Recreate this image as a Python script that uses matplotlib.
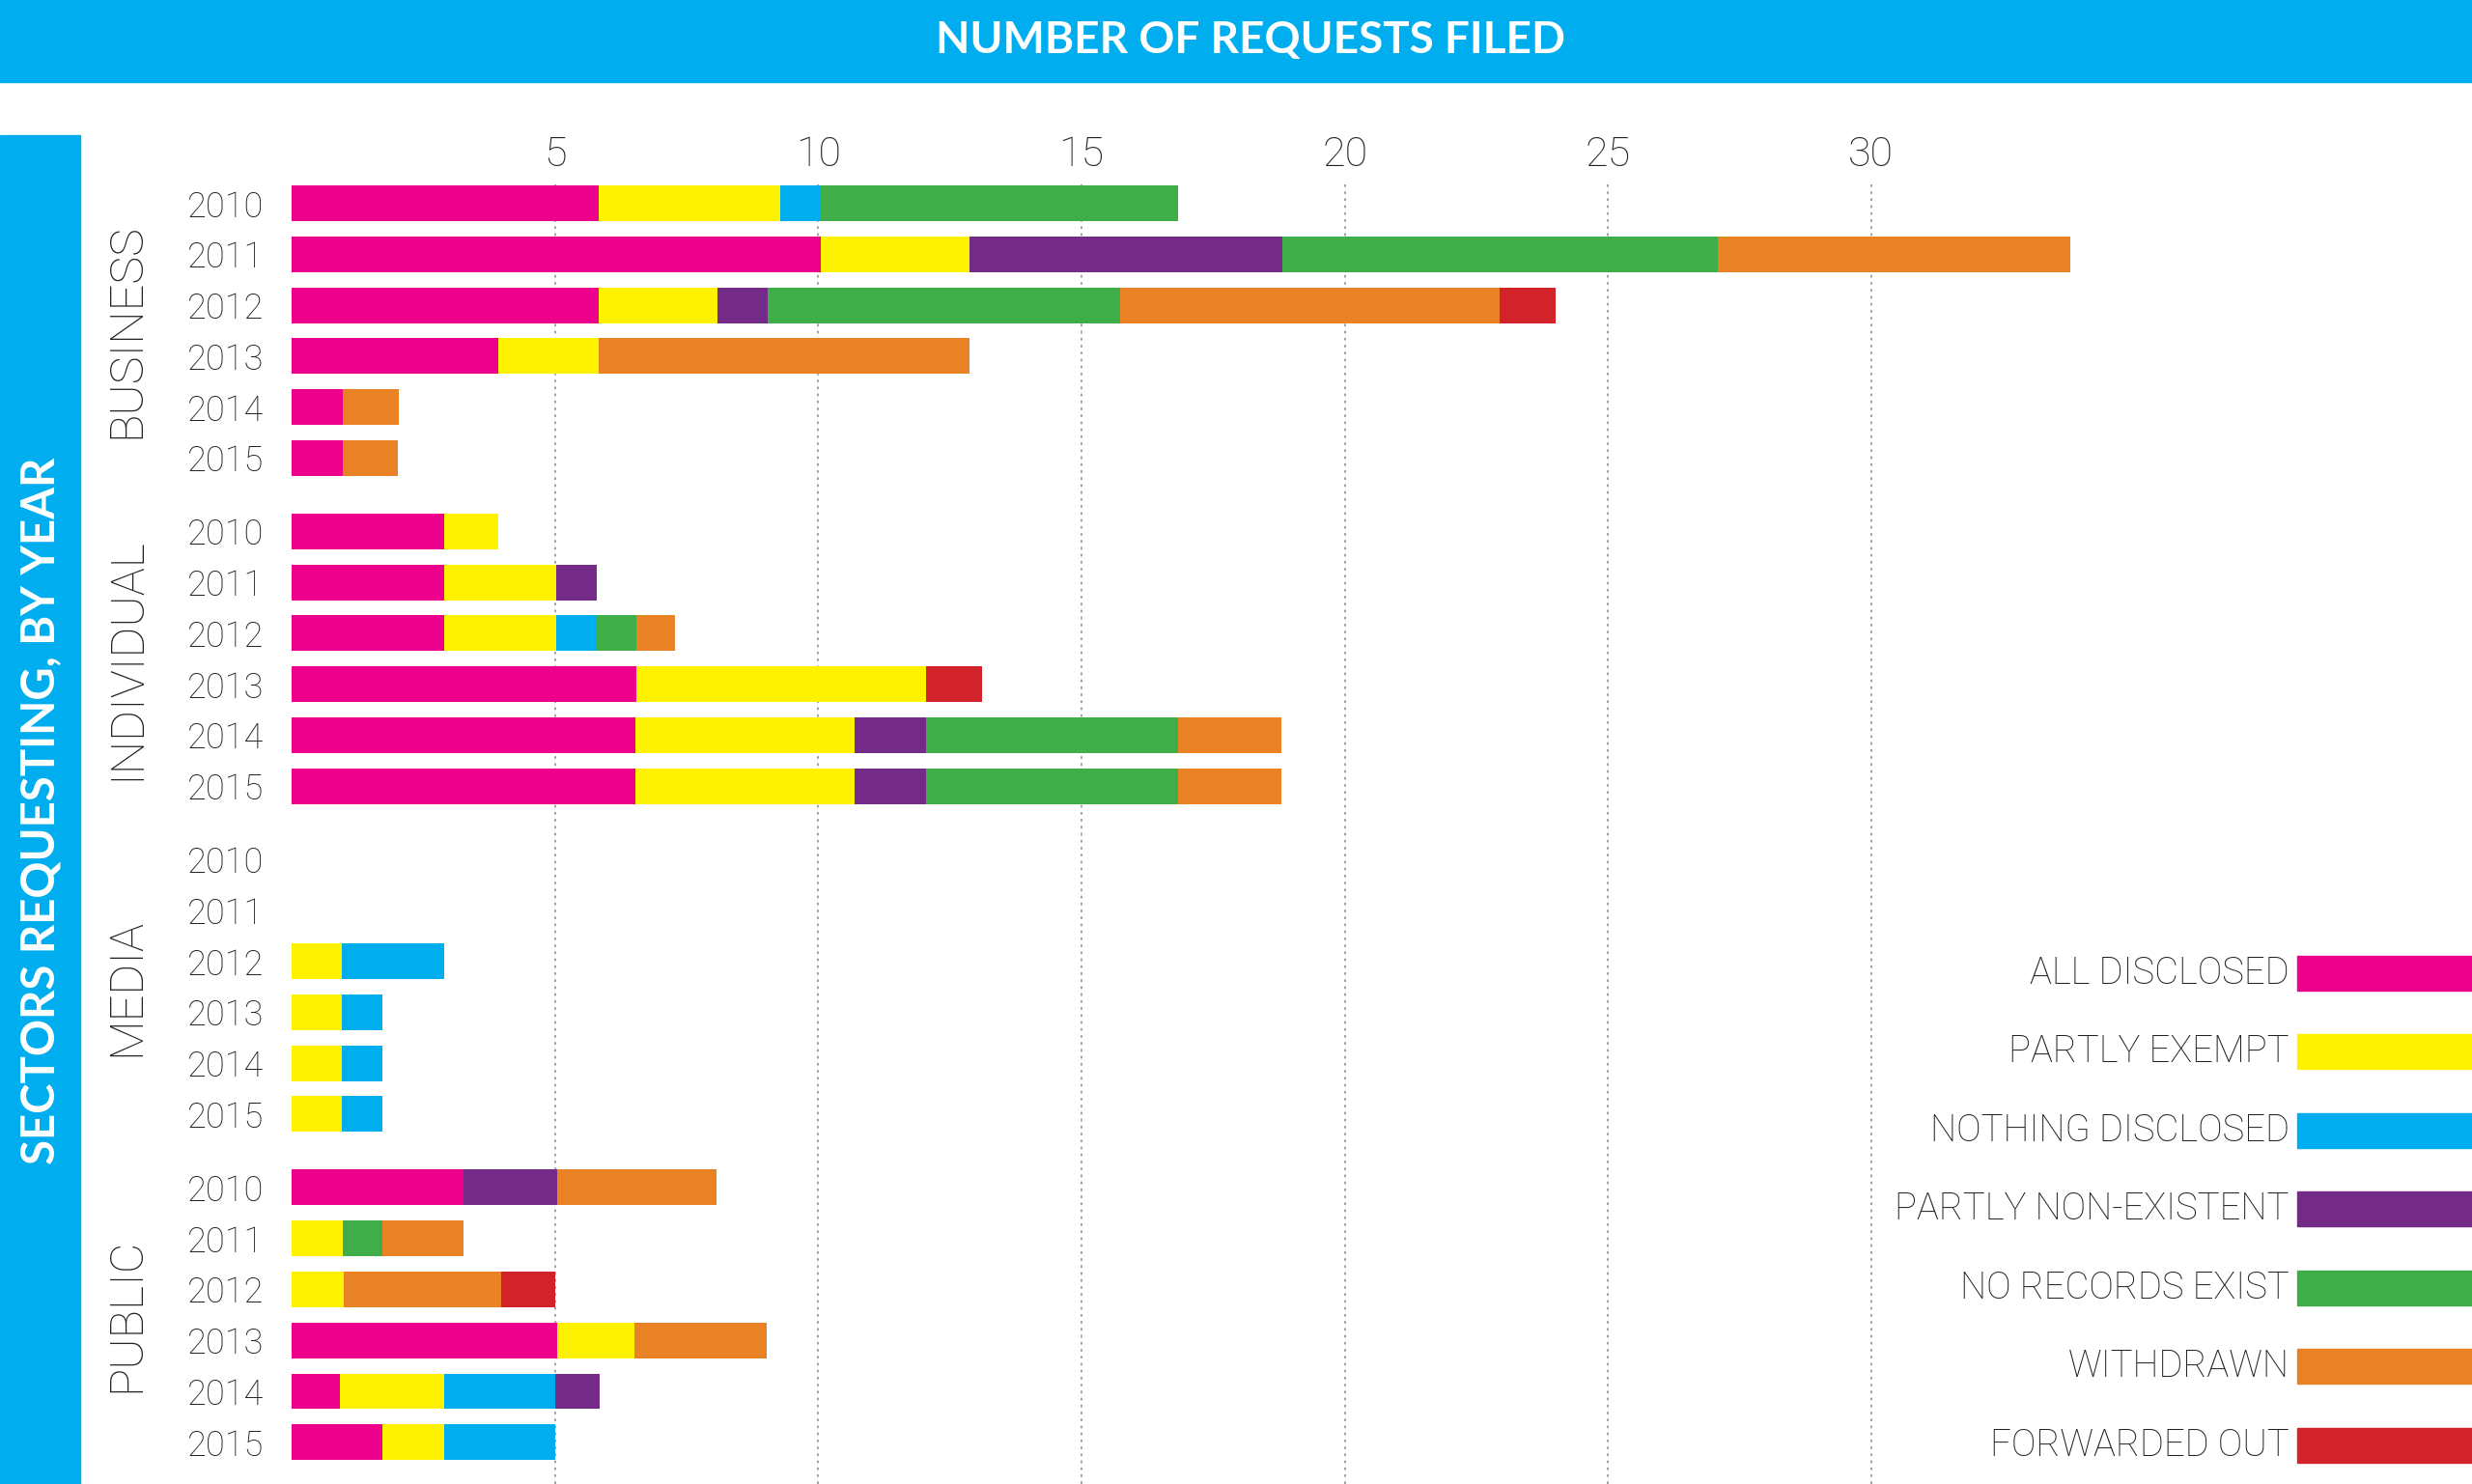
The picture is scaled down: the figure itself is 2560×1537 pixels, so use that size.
import numpy as np
import matplotlib
matplotlib.use("Agg")
import matplotlib.pyplot as plt
from matplotlib.patches import Rectangle
import matplotlib.transforms as mtransforms

plt.rcParams['font.family'] = ['Lato', 'DejaVu Sans']

# data, one value per row (2010..2015 in each sector)
sectors = ["BUSINESS", "INDIVIDUAL", "MEDIA", "PUBLIC"]
years = ["2010", "2011", "2012", "2013", "2014", "2015"]

outcomes = ["ALL DISCLOSED", "PARTLY EXEMPT", "NOTHING DISCLOSED",
            "PARTLY NON-EXISTENT", "NO RECORDS EXIST", "WITHDRAWN", "FORWARDED OUT"]
colors = ["#EC008C", "#FFF200", "#00AEEF", "#742A87", "#3FAE49", "#E98224", "#D2232A"]

all_disclosed = [5.83, 10.05, 5.83, 3.93, 0.97, 0.97,
                 2.90, 2.90, 2.90, 6.54, 6.52, 6.52,
                 0, 0, 0, 0, 0, 0,
                 3.27, 0, 0, 5.04, 0.92, 1.72]
partly_exempt = [3.45, 2.83, 2.25, 1.90, 0, 0,
                 1.02, 2.12, 2.12, 5.51, 4.18, 4.18,
                 0, 0, 0.95, 0.95, 0.95, 0.95,
                 0, 0.98, 0.99, 1.47, 1.98, 1.18]
nothing_disclosed = [0.75, 0, 0, 0, 0, 0,
                     0, 0, 0.78, 0, 0, 0,
                     0, 0, 1.95, 0.77, 0.77, 0.77,
                     0, 0, 0, 0, 2.10, 2.10]
partly_nonexistent = [0, 5.93, 0.96, 0, 0, 0,
                      0, 0.78, 0, 0, 1.35, 1.35,
                      0, 0, 0, 0, 0, 0,
                      1.77, 0, 0, 0, 0.85, 0]
no_records = [6.80, 8.27, 6.70, 0, 0, 0,
              0, 0, 0.74, 0, 4.79, 4.79,
              0, 0, 0, 0, 0, 0,
              0, 0.74, 0, 0, 0, 0]
withdrawn = [0, 6.70, 7.21, 7.05, 1.07, 1.05,
             0, 0, 0.74, 0, 1.96, 1.96,
             0, 0, 0, 0, 0, 0,
             3.02, 1.55, 2.99, 2.52, 0, 0]
forwarded_out = [0, 0, 1.05, 0, 0, 0,
                 0, 0, 0, 1.06, 0, 0,
                 0, 0, 0, 0, 0, 0,
                 0, 0, 1.02, 0, 0, 0]

series = [all_disclosed, partly_exempt, nothing_disclosed, partly_nonexistent,
          no_records, withdrawn, forwarded_out]

ticks = [5, 10, 15, 20, 25, 30]

BLUE = "#00AEEF"
TXT = "#222222"
THIN = dict(family=["Roboto", "DejaVu Sans"], fontweight="light")

fig = plt.figure(figsize=(25.6, 15.37), dpi=100)

# banners
fig.add_artist(Rectangle((0, 1 - 52 / 941), 1, 52 / 941, transform=fig.transFigure,
                         color=BLUE, zorder=0))
fig.add_artist(Rectangle((0, 0), 51 / 1568, (941 - 86) / 941, transform=fig.transFigure,
                         color=BLUE, zorder=0))
fig.text(0.506, 1 - 26 / 941, "NUMBER OF REQUESTS FILED", color="white", fontsize=33,
         fontweight="bold", ha="center", va="center")
fig.text(26 / 1568, 1 - 514 / 941, "SECTORS REQUESTING, BY YEAR", color="white", fontsize=34,
         fontweight="bold", rotation=90, ha="center", va="center")

# main axes
ax = fig.add_axes([185 / 1568, 0, 1 - 185 / 1568, 1 - 117 / 941])
ax.set_xlim(0, 41.41)
ax.set_ylim(25.14, -0.37)

group_step = 6.44
ypos = np.array([g * group_step + i for g in range(len(sectors)) for i in range(len(years))])

left = np.zeros(len(ypos))
for vals, c, name in zip(series, colors, outcomes):
    vals = np.array(vals)
    ax.barh(ypos, vals, left=left, height=0.70, color=c, linewidth=0, label=name, zorder=3)
    left += vals

ax.set_xticks(ticks)
ax.set_xticklabels([str(t) for t in ticks], **THIN)
ax.xaxis.tick_top()
ax.tick_params(axis="x", length=0, pad=7, labelsize=31, labelcolor=TXT)
ax.grid(axis="x", color="#9a9a9a", linestyle=(0, (1.5, 2.5)), linewidth=1.3, zorder=1)

ax.set_yticks(ypos)
ax.set_yticklabels(years * len(sectors), **THIN)
ax.tick_params(axis="y", length=0, pad=21, labelsize=26, labelcolor=TXT)

for s in ax.spines.values():
    s.set_visible(False)

# sector names, centred on their group of rows
trans = mtransforms.blended_transform_factory(fig.transFigure, ax.transData)
for g, name in enumerate(sectors):
    ymid = g * group_step + (len(years) - 1) / 2
    ax.text(80 / 1568, ymid, name, transform=trans, rotation=90, ha="center", va="center",
            fontsize=35, color=TXT, **THIN)

# legend on the right
for k, (name, c) in enumerate(zip(outcomes, colors)):
    yc = 1 - (617 + 49.9 * k) / 941
    fig.text(1452 / 1568, yc, name, ha="right", va="center", fontsize=27.5,
             color=TXT, zorder=6, **THIN)
    fig.add_artist(Rectangle((1457 / 1568, yc - 11 / 941), 1 - 1457 / 1568, 22 / 941,
                             transform=fig.transFigure, color=c, zorder=6))

fig.savefig("out.png", dpi=100)
